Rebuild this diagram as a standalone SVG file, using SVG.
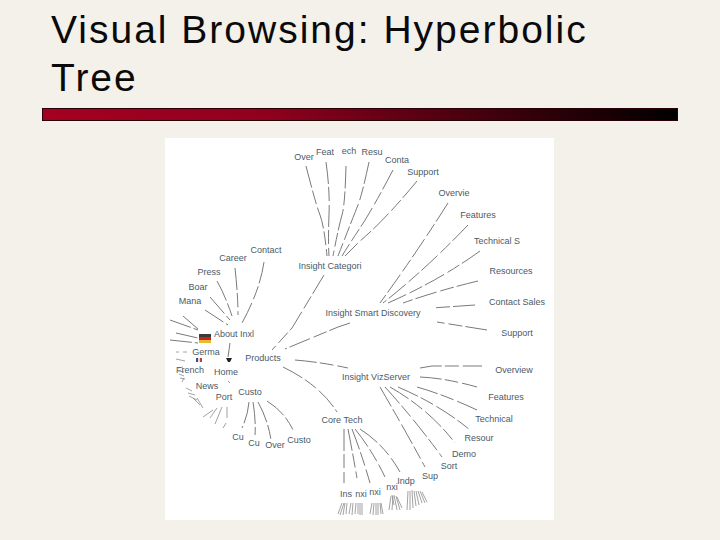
<svg xmlns="http://www.w3.org/2000/svg" width="720" height="540" viewBox="0 0 720 540">
<style>
.t{font-family:"Liberation Sans",Arial,sans-serif;font-size:39px;fill:#0a0a0a;letter-spacing:2px}
.n text{font-family:"Liberation Sans",Arial,sans-serif;font-size:9px;fill:#4a5a68;text-anchor:middle}
.e path{fill:none;stroke:#7a7a7a;stroke-width:1;stroke-dasharray:22 3 14 4}
.e .s{stroke-dasharray:none;stroke:#8a8a8a;stroke-width:.8}
</style>
<defs><linearGradient id="g"><stop offset="0" stop-color="#a50021"/><stop offset=".35" stop-color="#90001e"/><stop offset="1" stop-color="#000"/></linearGradient></defs>
<rect width="720" height="540" fill="#f3f1ea"/>
<g id="title"><text class="t" x="51" y="43">Visual Browsing: Hyperbolic</text><text class="t" x="51" y="91">Tree</text></g>
<rect x="42.500" y="108.500" width="635" height="12" fill="url(#g)" stroke="#2a0008" stroke-width="1"/>
<rect x="165" y="138" width="389" height="382" fill="#fff"/>
<g class="e" id="connectors">
<path d="M306 166Q316 205 320 215T327 256"/><path d="M326 162Q330 190 329 215T329 256"/><path d="M346 166Q345 205 342 215T333 256"/>
<path d="M369 162Q362 195 358 205T338 256"/><path d="M393 170Q372 210 360 228T342 256"/><path d="M417 181Q385 220 360 241L345 256"/>
<path d="M324 275L292 328L272 350"/><path d="M350 323L338 327L285 349"/>
<path d="M448 203Q415 255 380 303"/><path d="M468 225Q425 270 383 303"/><path d="M480 251Q440 280 388 303"/><path d="M478 281Q440 290 403 303"/><path d="M475 305L432 308"/><path d="M487 330L437 322"/>
<path d="M295 360Q320 362 348 368"/><path d="M283 367Q320 385 337 412"/>
<path d="M420 368L432 366H482"/><path d="M420 377Q445 378 477 387"/><path d="M417 387Q445 395 477 410"/><path d="M398 387Q440 405 470 430"/><path d="M390 387Q430 410 455 443"/><path d="M385 387Q415 420 442 457"/><path d="M380 387Q405 430 425 467"/>
<path d="M344 429V483"/><path d="M348 429Q353 455 357 478"/><path d="M352 429Q362 455 370 483"/><path d="M355 429Q372 450 385 477"/><path d="M360 429Q385 445 400 472"/>
<path d="M170 320L198 330"/><path d="M183 316L198 329"/><path d="M176 333L198 338"/><path d="M170 340L198 343"/>
<path d="M205 310L228 325"/><path d="M210 297L230 320"/><path d="M217 281Q225 295 232 316"/><path d="M235 268Q238 295 238 315"/><path d="M264 262Q260 290 242 323"/>
<path d="M230 343L228 357"/>
<path d="M249 402Q248 415 242 428"/><path d="M253 402Q256 420 255 435"/><path d="M258 402Q268 420 271 440"/><path d="M267 401Q285 412 294 432"/>
<path class="s" d="M176 352H179M183 352H187M176 359L185 361M178 368L183 367M178 371L184 372M179 374L184 376M180 378L185 379M182 382L184 378M186 388L192 391M188 393L195 395M189 396L197 400M193 398L200 405M197 398L203 408M203 417L213 410M210 418L217 408M215 424L222 407M227 407V418M223 428L226 423M228 381L230 383"/>
<path class="s" d="M338 514L342 503M340 515L344 503M343 515L345 503M346 514L347 503M349 514L351 503M352 515L353 503M355 514L356 503M358 514L358 503M360 515L360 503M362 515L362 503M370 514L372 503M373 515L374 503M376 515L376 503M378 515L378 503M381 514L380 503M383 514L381 503M389 510L391 496M392 510L393 496M394 505L392 495M397 510L394 495M400 510L396 496M402 508L397 497M407 510L408 491M410 510L410 491M413 508L412 490M416 506L414 491M419 505L416 491M422 503L418 491M425 503L420 491M427 502L422 492"/>
</g>
<g class="n">
<g id="over1"><text x="304" y="160">Over</text></g><g id="feat1"><text x="325" y="155">Feat</text></g><g id="tech1"><text x="349" y="154">ech</text></g><g id="resu1"><text x="372" y="155">Resu</text></g><g id="conta1"><text x="397" y="163">Conta</text></g><g id="support1"><text x="423" y="175">Support</text></g>
<g id="cat"><text x="330" y="269">Insight Categori</text></g>
<g id="overv2"><text x="454" y="196">Overvie</text></g><g id="feat2"><text x="478" y="218">Features</text></g><g id="tech2"><text x="497" y="244">Technical S</text></g><g id="res2"><text x="511" y="274">Resources</text></g><g id="sales"><text x="517" y="305">Contact Sales</text></g><g id="sup2"><text x="517" y="336">Support</text></g>
<g id="smart"><text x="373" y="316">Insight Smart Discovery</text></g>
<g id="contact"><text x="266" y="253">Contact</text></g><g id="career"><text x="233" y="261">Career</text></g><g id="press"><text x="209" y="275">Press</text></g><g id="board"><text x="198" y="290">Boar</text></g><g id="mana"><text x="190" y="304">Mana</text></g>
<g id="about"><text x="234" y="337">About Inxl</text></g><g id="germa"><text x="206" y="355">Germa</text></g><g id="french"><text x="190" y="373">French</text></g><g id="home"><text x="226" y="375">Home</text></g><g id="news"><text x="207" y="389">News</text></g><g id="port"><text x="224" y="400">Port</text></g><g id="custo"><text x="250" y="395">Custo</text></g>
<g id="products"><text x="263" y="361">Products</text></g>
<g id="cu1"><text x="238" y="440">Cu</text></g><g id="cu2"><text x="254" y="446">Cu</text></g><g id="over3"><text x="275" y="448">Over</text></g><g id="custo2"><text x="299" y="443">Custo</text></g>
<g id="core"><text x="342" y="423">Core Tech</text></g><g id="viz"><text x="376" y="380">Insight VizServer</text></g>
<g id="overv4"><text x="514" y="373">Overview</text></g><g id="feat4"><text x="506" y="400">Features</text></g><g id="tech4"><text x="494" y="422">Technical</text></g><g id="resou"><text x="479" y="441">Resour</text></g><g id="demo"><text x="464" y="457">Demo</text></g><g id="sort"><text x="449" y="469">Sort</text></g><g id="sup4"><text x="430" y="479">Sup</text></g>
<g id="indp"><text x="406" y="484">Indp</text></g><g id="nxi1"><text x="392" y="490">nxi</text></g><g id="nxi2"><text x="375" y="495">nxi</text></g><g id="nxi3"><text x="361" y="497">nxi</text></g><g id="ins"><text x="346" y="497">Ins</text></g>
</g>
<g id="flags">
<rect x="199" y="334" width="12" height="3" fill="#3a3a3a"/><rect x="199" y="337" width="12" height="3" fill="#c8261c"/><rect x="199" y="340" width="12" height="3" fill="#e8b830"/>
<rect x="196" y="358" width="2" height="4" fill="#35508a"/><rect x="198" y="358" width="2" height="4" fill="#ddd"/><rect x="200" y="358" width="2" height="4" fill="#b84040"/>
<path d="M226 358H232L230 362H228Z" fill="#222"/>
</g>
</svg>
